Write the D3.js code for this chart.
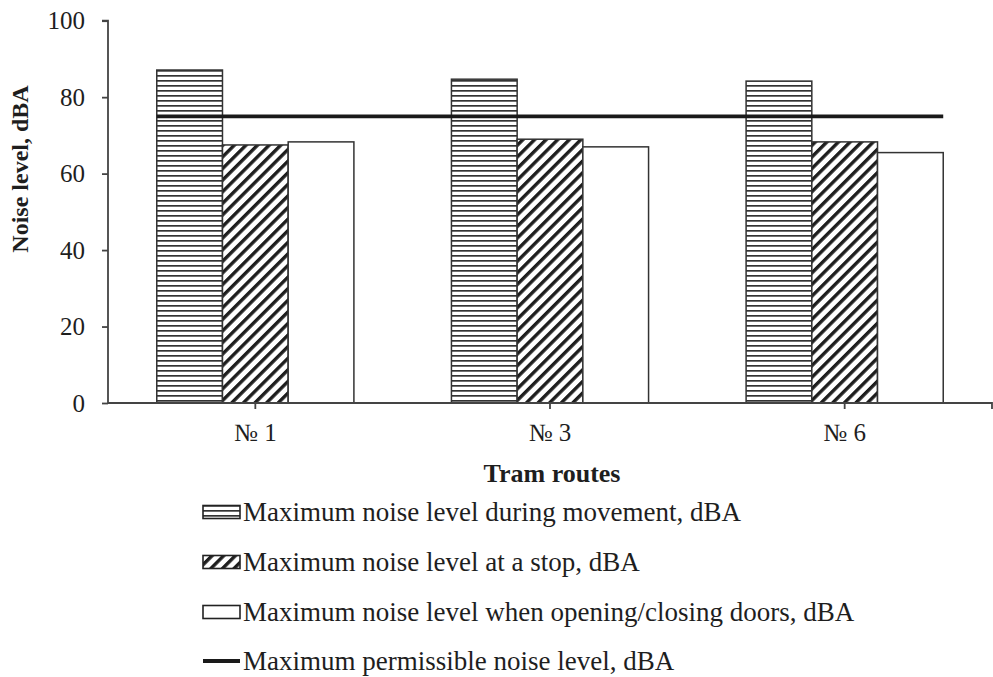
<!DOCTYPE html>
<html>
<head>
<meta charset="utf-8">
<script src="https://cdn.jsdelivr.net/npm/d3@7"></script>
<style>
  html, body { margin: 0; padding: 0; background: #fff; }
  svg { display: block; }
  text { font-family: "Liberation Serif", "Times New Roman", serif; fill: #1e1e1e; }
</style>
</head>
<body>
<svg id="chart" width="993" height="677"></svg>
<script>
const categories = ["№ 1", "№ 3", "№ 6"];
const seriesNames = [
  "Maximum noise level during movement, dBA",
  "Maximum noise level at a stop, dBA",
  "Maximum noise level when opening/closing doors, dBA"
];
const movement = [87.1, 84.7, 84.2];
const atStop = [67.5, 69.0, 68.3];
const doors = [68.3, 67.0, 65.5];
const permissible = 75;
const permissibleName = "Maximum permissible noise level, dBA";
const yTicks = [0, 20, 40, 60, 80, 100];
const xTitle = "Tram routes";
const yTitle = "Noise level, dBA";

const seriesValues = [movement, atStop, doors];
const fills = ["url(#hstripe)", "url(#dstripe)", "#ffffff"];

const svg = d3.select("#chart");
const mLeft = 108, mRight = 992, mTop = 20.7, mBottom = 403;

const defs = svg.append("defs");
const hp = defs.append("pattern").attr("id", "hstripe").attr("patternUnits", "userSpaceOnUse")
  .attr("width", 10).attr("height", 5);
hp.append("rect").attr("width", 10).attr("height", 5).attr("fill", "#fff");
hp.append("rect").attr("y", 0).attr("width", 10).attr("height", 1.7).attr("fill", "#333");

const dp = defs.append("pattern").attr("id", "dstripe").attr("patternUnits", "userSpaceOnUse")
  .attr("width", 8.2).attr("height", 8.2).attr("patternTransform", "rotate(45)");
dp.append("rect").attr("width", 8.2).attr("height", 8.2).attr("fill", "#fff");
dp.append("rect").attr("x", 0).attr("width", 3.4).attr("height", 8.2).attr("fill", "#1e1e1e");

const y = d3.scaleLinear().domain([0, 100]).range([mBottom, mTop]);
const x0 = d3.scaleBand().domain(categories).range([mLeft, mRight]).paddingInner(0.331).paddingOuter(0.1655);
const x1 = d3.scaleBand().domain(d3.range(seriesValues.length)).range([0, x0.bandwidth()]);

// bars
const groups = svg.append("g").selectAll("g").data(categories).join("g")
  .attr("transform", d => `translate(${x0(d)},0)`);
groups.selectAll("rect").data((c, ci) => seriesValues.map((s, si) => ({si, v: s[ci]})))
  .join("rect")
  .attr("x", d => x1(d.si))
  .attr("width", x1.bandwidth())
  .attr("y", d => y(d.v))
  .attr("height", d => y(0) - y(d.v))
  .attr("fill", d => fills[d.si])
  .attr("stroke", "#333")
  .attr("stroke-width", 1.5);

// permissible line
svg.append("line")
  .attr("x1", x0(categories[0]))
  .attr("x2", x0(categories[categories.length - 1]) + x0.bandwidth())
  .attr("y1", y(permissible)).attr("y2", y(permissible))
  .attr("stroke", "#1a1a1a").attr("stroke-width", 3.8);

// y axis
const yAxis = svg.append("g").attr("transform", `translate(${mLeft},0)`)
  .call(d3.axisLeft(y).tickValues(yTicks).tickSize(6).tickPadding(17).tickFormat(d3.format("d")));
yAxis.select(".domain").attr("stroke", "#444").attr("stroke-width", 1.8).attr("d", `M-6,${y(100)}H0V${y(0)}`);
yAxis.selectAll(".tick line").attr("stroke", "#444").attr("stroke-width", 1.8);
yAxis.selectAll(".tick text").attr("font-size", 25).attr("font-family", "Liberation Serif").attr("fill", "#1e1e1e");

// x axis
const xAxis = svg.append("g").attr("transform", `translate(0,${mBottom})`)
  .call(d3.axisBottom(x0).tickSize(6).tickPadding(14));
xAxis.select(".domain").attr("stroke", "#444").attr("stroke-width", 1.8).attr("d", `M${mLeft},0H${mRight}V6`);
xAxis.selectAll(".tick line").attr("stroke", "#444").attr("stroke-width", 1.8);
xAxis.selectAll(".tick text").attr("font-size", 25).attr("font-family", "Liberation Serif").attr("fill", "#1e1e1e");

// titles
svg.append("text").attr("x", 552).attr("y", 482).attr("text-anchor", "middle")
  .attr("font-size", 26).attr("font-weight", "bold").text(xTitle);
svg.append("text").attr("transform", `translate(28,169) rotate(-90)`).attr("text-anchor", "middle")
  .attr("font-size", 24).attr("font-weight", "bold").text(yTitle);

// legend
const legendNames = seriesNames.concat([permissibleName]);
const legendY = [512, 562, 612, 661];
const lg = svg.append("g");
legendNames.forEach((name, i) => {
  const cy = legendY[i];
  if (i < 3) {
    lg.append("rect").attr("x", 203).attr("y", cy - 6.5).attr("width", 37).attr("height", 13)
      .attr("fill", fills[i]).attr("stroke", "#222").attr("stroke-width", 1.6);
  } else {
    lg.append("line").attr("x1", 203).attr("x2", 240).attr("y1", cy).attr("y2", cy)
      .attr("stroke", "#1a1a1a").attr("stroke-width", 3.8);
  }
  lg.append("text").attr("x", 243).attr("y", cy + 9).attr("font-size", 27).text(name);
});
</script>
</body>
</html>
